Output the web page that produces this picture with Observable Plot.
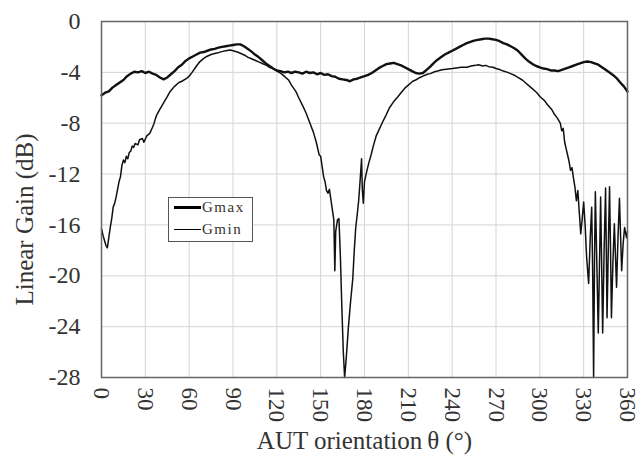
<!DOCTYPE html>
<html>
<head>
<meta charset="utf-8">
<script src="https://cdn.jsdelivr.net/npm/d3@7"></script>
<script src="https://cdn.jsdelivr.net/npm/@observablehq/plot@0.6"></script>
<style>
  html, body { margin: 0; padding: 0; background: #fff; }
  #wrap { position: relative; width: 641px; height: 455px; font-family: "Liberation Serif", "Times New Roman", serif; }
  #legend { position: absolute; left: 168px; top: 197px; width: 85px; height: 45px; border: 1px solid #555; background: #fff; box-sizing: border-box; font-size: 15px; letter-spacing: 1.5px; color: #333; }
  .row { position: absolute; left: 5px; display: flex; align-items: center; }
  .sw { width: 27px; background: #000; margin-right: 1px; }
</style>
</head>
<body>
<div id="wrap">
  <div id="chart"></div>
  <div id="legend">
    <div class="row" style="top:1px"><div class="sw" style="height:2.4px"></div><span id="l0"></span></div>
    <div class="row" style="top:23px"><div class="sw" style="height:1.5px"></div><span id="l1"></span></div>
  </div>
</div>
<script>
const seriesNames = ["Gmax", "Gmin"];
const xTicks = [0, 30, 60, 90, 120, 150, 180, 210, 240, 270, 300, 330, 360];
const yTicks = [0, -4, -8, -12, -16, -20, -24, -28];
const xTitle = "AUT orientation\u2009θ (°)";
const yTitle = "Linear Gain (dB)";

const gmaxTheta = [0,2.5,5,7.5,10,12.5,15,17.5,20,22.5,25,27.5,30,32.5,35,37.5,40,42.5,45,47.5,50,52.5,55,57.5,60,62.5,65,67.5,70,72.5,75,77.5,80,82.5,85,87.5,90,92.5,95,97.5,100,102.5,105,107.5,110,112.5,115,117.5,120,122.5,125,127.5,130,132.5,135,137.5,140,142.5,145,147.5,150,152.5,155,157.5,160,162.5,165,167.5,170,172.5,175,177.5,180,182.5,185,187.5,190,192.5,195,197.5,200,202.5,205,207.5,210,212.5,215,217.5,220,222.5,225,227.5,230,232.5,235,237.5,240,242.5,245,247.5,250,252.5,255,257.5,260,262.5,265,267.5,270,272.5,275,277.5,280,282.5,285,287.5,290,292.5,295,297.5,300,302.5,305,307.5,310,312.5,315,317.5,320,322.5,325,327.5,330,332.5,335,337.5,340,342.5,345,347.5,350,352.5,355,357.5,360];
const gmaxGain = [-5.8,-5.6,-5.5,-5.2,-5.0,-4.8,-4.6,-4.3,-4.1,-3.95,-4.0,-3.9,-4.05,-3.95,-4.1,-4.2,-4.4,-4.55,-4.4,-4.15,-3.9,-3.6,-3.4,-3.1,-2.9,-2.75,-2.6,-2.45,-2.4,-2.3,-2.2,-2.15,-2.05,-2.0,-1.95,-1.9,-1.85,-1.8,-1.8,-1.95,-2.15,-2.35,-2.6,-2.8,-3.05,-3.3,-3.5,-3.7,-3.85,-3.9,-4.0,-3.95,-4.05,-3.95,-4.0,-4.1,-3.95,-4.05,-4.0,-4.15,-4.05,-4.2,-4.15,-4.3,-4.35,-4.5,-4.55,-4.6,-4.7,-4.55,-4.5,-4.4,-4.3,-4.2,-4.05,-3.85,-3.65,-3.5,-3.35,-3.3,-3.25,-3.35,-3.45,-3.6,-3.75,-3.9,-4.05,-4.1,-4.05,-3.8,-3.55,-3.25,-3.0,-2.8,-2.6,-2.45,-2.3,-2.15,-2.0,-1.85,-1.7,-1.6,-1.5,-1.45,-1.4,-1.35,-1.35,-1.4,-1.45,-1.55,-1.7,-1.8,-1.95,-2.1,-2.3,-2.6,-2.9,-3.15,-3.35,-3.5,-3.6,-3.7,-3.75,-3.85,-3.85,-3.9,-3.8,-3.7,-3.6,-3.5,-3.4,-3.3,-3.2,-3.15,-3.2,-3.3,-3.4,-3.6,-3.8,-4.0,-4.2,-4.45,-4.8,-5.1,-5.5];

const gminTheta = [0,1,2,3,4,5,6,7,8,9,10,11,12,13,14,15,16,17,18,19,20,21,22,23,25,26,28,29,31,33,35,36,37,38,40,42,45,47,50,53,55,58,60,62,65,67,70,72,75,78,80,83,85,88,90,93,95,98,100,103,105,108,110,113,115,118,120,123,125,128,130,133,135,138,140,143,145,147,149,150,151,152,153,154,155,156,157,158,159,159.7,160.3,161.5,162.5,163.5,164.5,165.5,166.4,167.5,169,170.5,172,173,174,175,176,177,178,178.5,179.2,180,181.5,183,184.5,186,188,190,192,195,197,200,203,205,208,210,213,215,218,220,223,225,228,230,233,236,240,243,246,250,253,256,258,261,263,265,268,270,273,275,278,280,283,285,288,290,293,295,298,300,303,305,308,310,312,314,315,316,317,318,319,320,321,322,323,324,325,326,327,328,329,330,331,332,333.4,334.5,335.5,336.2,336.8,337.4,338,339,340,341,341.6,342.3,343,344,345,345.5,346,347,347.7,348.4,349,350,351,352.5,353.5,354.5,355.3,356,357,358,359.3,360];
const gminGain = [-16.3,-16.8,-17.2,-17.6,-17.8,-17.0,-16.2,-15.5,-14.6,-14.3,-13.8,-13.2,-12.6,-12.2,-11.3,-10.9,-11.1,-10.6,-10.8,-10.3,-10.2,-9.8,-9.9,-9.6,-9.7,-9.3,-9.2,-9.5,-9.0,-8.8,-8.3,-8.0,-7.6,-7.3,-6.9,-6.5,-5.9,-5.5,-5.1,-4.8,-4.7,-4.5,-4.3,-4.0,-3.5,-3.2,-2.9,-2.75,-2.6,-2.5,-2.45,-2.35,-2.3,-2.25,-2.3,-2.4,-2.5,-2.65,-2.8,-2.95,-3.05,-3.2,-3.3,-3.45,-3.6,-3.75,-3.9,-4.1,-4.3,-4.6,-5.0,-5.5,-6.0,-6.7,-7.2,-8.1,-8.7,-9.5,-10.5,-10.6,-11.4,-12.2,-12.6,-13.3,-13.5,-13.2,-14.0,-14.8,-15.6,-19.6,-16.5,-15.6,-15.5,-18.5,-22.5,-26,-28,-26.5,-24,-22,-20.2,-18,-16.2,-15.2,-14.1,-12.5,-10.8,-13.2,-14.3,-12.6,-11.8,-11.1,-10.5,-9.8,-9.0,-8.5,-8.0,-7.3,-6.8,-6.3,-5.9,-5.6,-5.2,-5.0,-4.7,-4.6,-4.4,-4.3,-4.15,-4.1,-3.95,-3.9,-3.8,-3.75,-3.7,-3.65,-3.6,-3.6,-3.5,-3.45,-3.4,-3.5,-3.45,-3.55,-3.6,-3.7,-3.8,-3.9,-4.0,-4.1,-4.25,-4.4,-4.6,-4.8,-5.1,-5.3,-5.6,-5.9,-6.2,-6.5,-6.9,-7.3,-7.6,-8.0,-8.6,-8.4,-9.5,-10.0,-10.5,-11.0,-11.7,-11.5,-12.3,-13.0,-14.1,-13.3,-15,-16.7,-15.5,-14.2,-16,-18.5,-20.6,-17,-14.6,-20,-28,-19,-13.4,-19,-24.5,-18,-13.8,-19,-24.5,-18,-13.1,-18,-23.3,-17,-13,-18,-23.3,-19,-15.9,-20.9,-17,-13.9,-17,-19.6,-17.5,-16.2,-17,-16.5];

const gmax = gmaxTheta.map((t, i) => ({theta: t, gain: gmaxGain[i]}));
const gmin = gminTheta.map((t, i) => ({theta: t, gain: gminGain[i]}));

document.getElementById("l0").textContent = seriesNames[0];
document.getElementById("l1").textContent = seriesNames[1];

const font = "'Liberation Serif', 'Times New Roman', serif";
const chart = Plot.plot({
  width: 641,
  height: 455,
  marginLeft: 101,
  marginRight: 14,
  marginTop: 21,
  marginBottom: 78,
  style: {fontFamily: font, fontSize: "24px", color: "#333", background: "#fff"},
  x: {domain: [0, 360]},
  y: {domain: [-28, 0]},
  marks: [
    Plot.gridX(xTicks, {stroke: "#d4d4d4", strokeOpacity: 1, strokeWidth: 1}),
    Plot.gridY(yTicks, {stroke: "#d4d4d4", strokeOpacity: 1, strokeWidth: 1}),
    Plot.axisX(xTicks, {tickSize: 0, tickPadding: 10, tickRotate: 90, tickFormat: d => String(d), fontSize: 23, label: null}),
    Plot.axisY(yTicks, {tickSize: 0, tickPadding: 21, tickFormat: d => String(d), fontSize: 24, label: null}),
    Plot.text([xTitle], {text: d => d, frameAnchor: "bottom", dy: 63, lineAnchor: "middle", textAnchor: "middle", fontSize: 25, fill: "#333"}),
    Plot.text([yTitle], {text: d => d, frameAnchor: "left", dx: -77, dy: 20, rotate: -90, lineAnchor: "middle", textAnchor: "middle", fontSize: 25, fill: "#333"}),
    Plot.line(gmin, {x: "theta", y: "gain", stroke: "#111", strokeWidth: 1.5}),
    Plot.line(gmax, {x: "theta", y: "gain", stroke: "#111", strokeWidth: 2.4}),
    Plot.frame({stroke: "#666", strokeWidth: 1.5})
  ]
});
document.getElementById("chart").appendChild(chart);
</script>
</body>
</html>
